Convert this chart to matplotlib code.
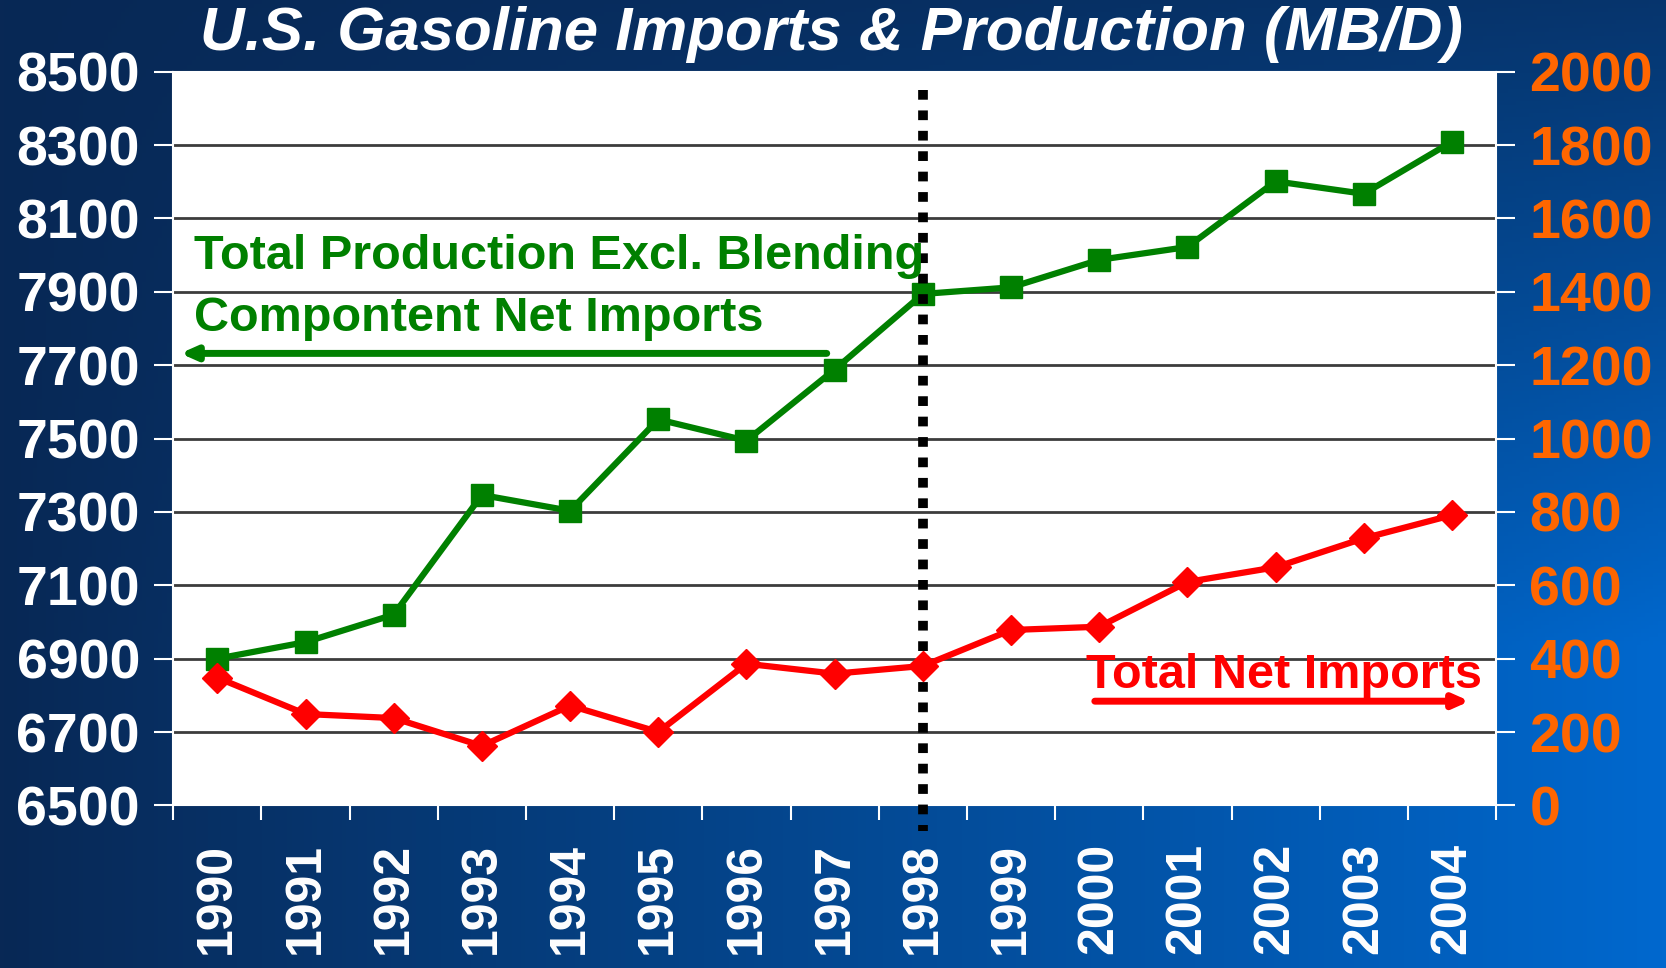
import numpy as np
import matplotlib
matplotlib.use("Agg")
import matplotlib.pyplot as plt

# data
years = ["1990", "1991", "1992", "1993", "1994", "1995", "1996", "1997",
         "1998", "1999", "2000", "2001", "2002", "2003", "2004"]
production = [6900, 6945, 7020, 7346, 7303, 7552, 7494, 7688,
              7894, 7912, 7987, 8022, 8201, 8167, 8309]
net_imports = [348, 249, 238, 162, 272, 200, 386, 359,
               380, 478, 487, 609, 649, 728, 791]
left_ticks = list(range(6500, 8501, 200))
right_ticks = list(range(0, 2001, 200))

arial = ["Liberation Sans", "DejaVu Sans"]

fig = plt.figure(figsize=(16.66, 9.68), dpi=100)

# background gradient: dark navy top/left -> brighter blue bottom/right
bg = fig.add_axes([0, 0, 1, 1], zorder=-10)
gx, gy = np.meshgrid(np.linspace(0, 1, 400), np.linspace(0, 1, 240))
t = gx * (0.2 + 0.8 * np.clip(gy * 1.5, 0, 1))
dark = np.array([8, 40, 85]) / 255
bright = np.array([0, 104, 206]) / 255
img = dark + (bright - dark) * t[..., None]
bg.imshow(img, aspect="auto", extent=[0, 1, 0, 1], origin="upper")
bg.axis("off")

ax = fig.add_axes([0.104, 0.168, 0.794, 0.758])
ax.set_facecolor("white")
x = np.arange(len(years))

ax.set_xlim(-0.5, len(years) - 0.5)
ax.set_ylim(6500, 8500)
ax.set_yticks(left_ticks)
for v in left_ticks[1:-1]:
    ax.axhline(v, color="#3c3c3c", lw=2, zorder=1)

ax.plot(x, production, color="#008000", lw=4.5, marker="s", ms=16,
        zorder=5, clip_on=False)

ax.set_xticks(x)
ax.set_xticklabels(years, rotation=90, fontsize=36, fontweight="bold",
                   color="white", family=arial)
ax.set_xticks(np.arange(-0.5, len(years)), minor=True)
ax.tick_params(axis="x", which="major", length=0, pad=27)
ax.tick_params(axis="x", which="minor", length=11, width=1.5, color="white")
ax.tick_params(axis="y", length=14, width=1.5, color="white", pad=10)
for lab in ax.get_yticklabels():
    lab.set_fontsize(40)
    lab.set_fontweight("bold")
    lab.set_color("white")
    lab.set_family(arial)
for s in ax.spines.values():
    s.set_color("white")
    s.set_linewidth(1.5)

ax2 = ax.twinx()
ax2.set_ylim(0, 2000)
ax2.set_yticks(right_ticks)
ax2.tick_params(axis="y", length=14, width=1.5, color="white", pad=10)
for lab in ax2.get_yticklabels():
    lab.set_fontsize(40)
    lab.set_fontweight("bold")
    lab.set_color("#FF6600")
    lab.set_family(arial)
for s in ax2.spines.values():
    s.set_visible(False)
ax2.plot(x, net_imports, color="#FF0000", lw=4.5, marker="D", ms=15,
         zorder=5, clip_on=False)

# 1998 dotted divider
ax.plot([8, 8], [8450, 6430], color="black", lw=7,
        linestyle=(0, (1, 1.1)), dash_capstyle="butt", clip_on=False, zorder=6)

# annotations
ax.text(-0.27, 7996, "Total Production Excl. Blending", color="#008000",
        fontsize=35, fontweight="bold", family=arial, va="center", ha="left",
        zorder=7)
ax.text(-0.27, 7827, "Compontent Net Imports", color="#008000",
        fontsize=35, fontweight="bold", family=arial, va="center", ha="left",
        zorder=7)
ax.annotate("", xy=(-0.42, 7732), xytext=(6.91, 7732),
            arrowprops=dict(arrowstyle="-|>,head_length=0.9,head_width=0.4",
                            color="#008000", lw=5, shrinkA=0, shrinkB=0),
            zorder=7)

ax2.text(9.85, 354, "Total Net Imports", color="#FF0000", fontsize=35,
         fontweight="bold", family=arial, va="center", ha="left", zorder=7)
ax2.annotate("", xy=(14.2, 284), xytext=(9.95, 284),
             arrowprops=dict(arrowstyle="-|>,head_length=0.9,head_width=0.4",
                             color="#FF0000", lw=5, shrinkA=0, shrinkB=0),
             zorder=7)

fig.text(0.499, 0.964, "U.S. Gasoline Imports & Production (MB/D)",
         color="white", fontsize=44.5, fontweight="bold", fontstyle="italic",
         family=arial, ha="center", va="center")

fig.savefig("out.png", dpi=100)
